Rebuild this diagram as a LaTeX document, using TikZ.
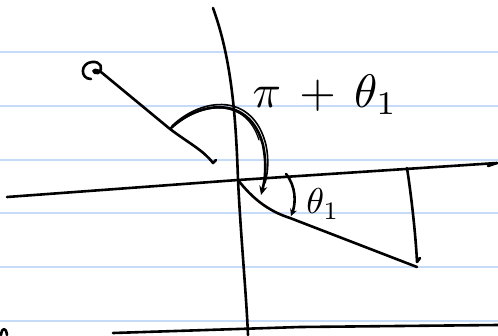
\documentclass[tikz,border=0pt]{standalone}
\usepackage{amsmath}
\usetikzlibrary{arrows.meta, calc}
\definecolor{ruleblue}{HTML}{C6DBF7}

\begin{document}
\begin{tikzpicture}[x=1pt, y=-1pt,
  pen/.style={line width=2.6pt, line cap=round, line join=round},
  bigtext/.style={scale=4.7, inner sep=0pt},
  smalltext/.style={scale=3.6, inner sep=0pt}]
\useasboundingbox (0,0) rectangle (498,335);

% ruled paper
\foreach \y in {52, 106, 160, 213, 267, 321} {
  \draw[ruleblue, line width=1.6pt] (0,\y) -- (498,\y);
}

% axes
\coordinate (O) at (238,180);
\coordinate (xend) at (497,163);
\draw[pen] (7,197) -- (O) -- (xend);
\draw[pen] (xend) -- (488,166);
\draw[pen] (213,8) .. controls (232,60) and (236,120) .. (O) .. controls (241,240) and (246,290) .. (248,335);
\draw[pen] (113,333) -- (300,327) -- (498,325);
\draw[pen] (1,335) .. controls (2,327) and (6,327) .. (7,335);

% ray with the curl at its far end
\coordinate (curl) at (101,72);
\coordinate (P) at (170,129);
\coordinate (Pend) at (213,163);
\draw[pen] (91,79) .. controls (80,79) and (80,63) .. (92,62) .. controls (101,61) and (104,69) .. (98,73) .. controls (93,75) and (90,66) .. (curl);
\draw[pen] (curl) -- (P) .. controls (190,144) and (203,150) .. (Pend) -- (216,160);

% big angle, several strokes
\draw[pen, -{Stealth[length=9pt, width=8pt]}] (P) .. controls (200,100) and (250,95) .. (263,145) .. controls (267,165) and (265,180) .. (261,195);
\draw[pen, line width=1.6pt] (172,126) .. controls (202,97) and (253,92) .. (266,145) .. controls (269,160) and (268,172) .. (265,183);
\draw[pen, line width=1.2pt] (175,125) .. controls (205,101) and (246,99) .. (259,140);

% lower ray and drop to the axis
\coordinate (Q) at (417,267);
\coordinate (foot) at (407,168);
\draw[pen] (O) .. controls (252,198) and (268,211) .. (290,218) -- (Q);
\draw[pen] (foot) .. controls (412,200) and (416,240) .. (417,262) -- (420,258);

% small angle
\draw[pen, -{Stealth[length=7pt, width=7pt]}] (286,174) .. controls (296,186) and (296,203) .. (291,216);

% labels
\node[bigtext] (pilabel) at (325,95) {$\pi\,+\,\theta_1$};
\node[smalltext] (thlabel) at (323,204) {$\theta_1$};
\end{tikzpicture}
\end{document}
